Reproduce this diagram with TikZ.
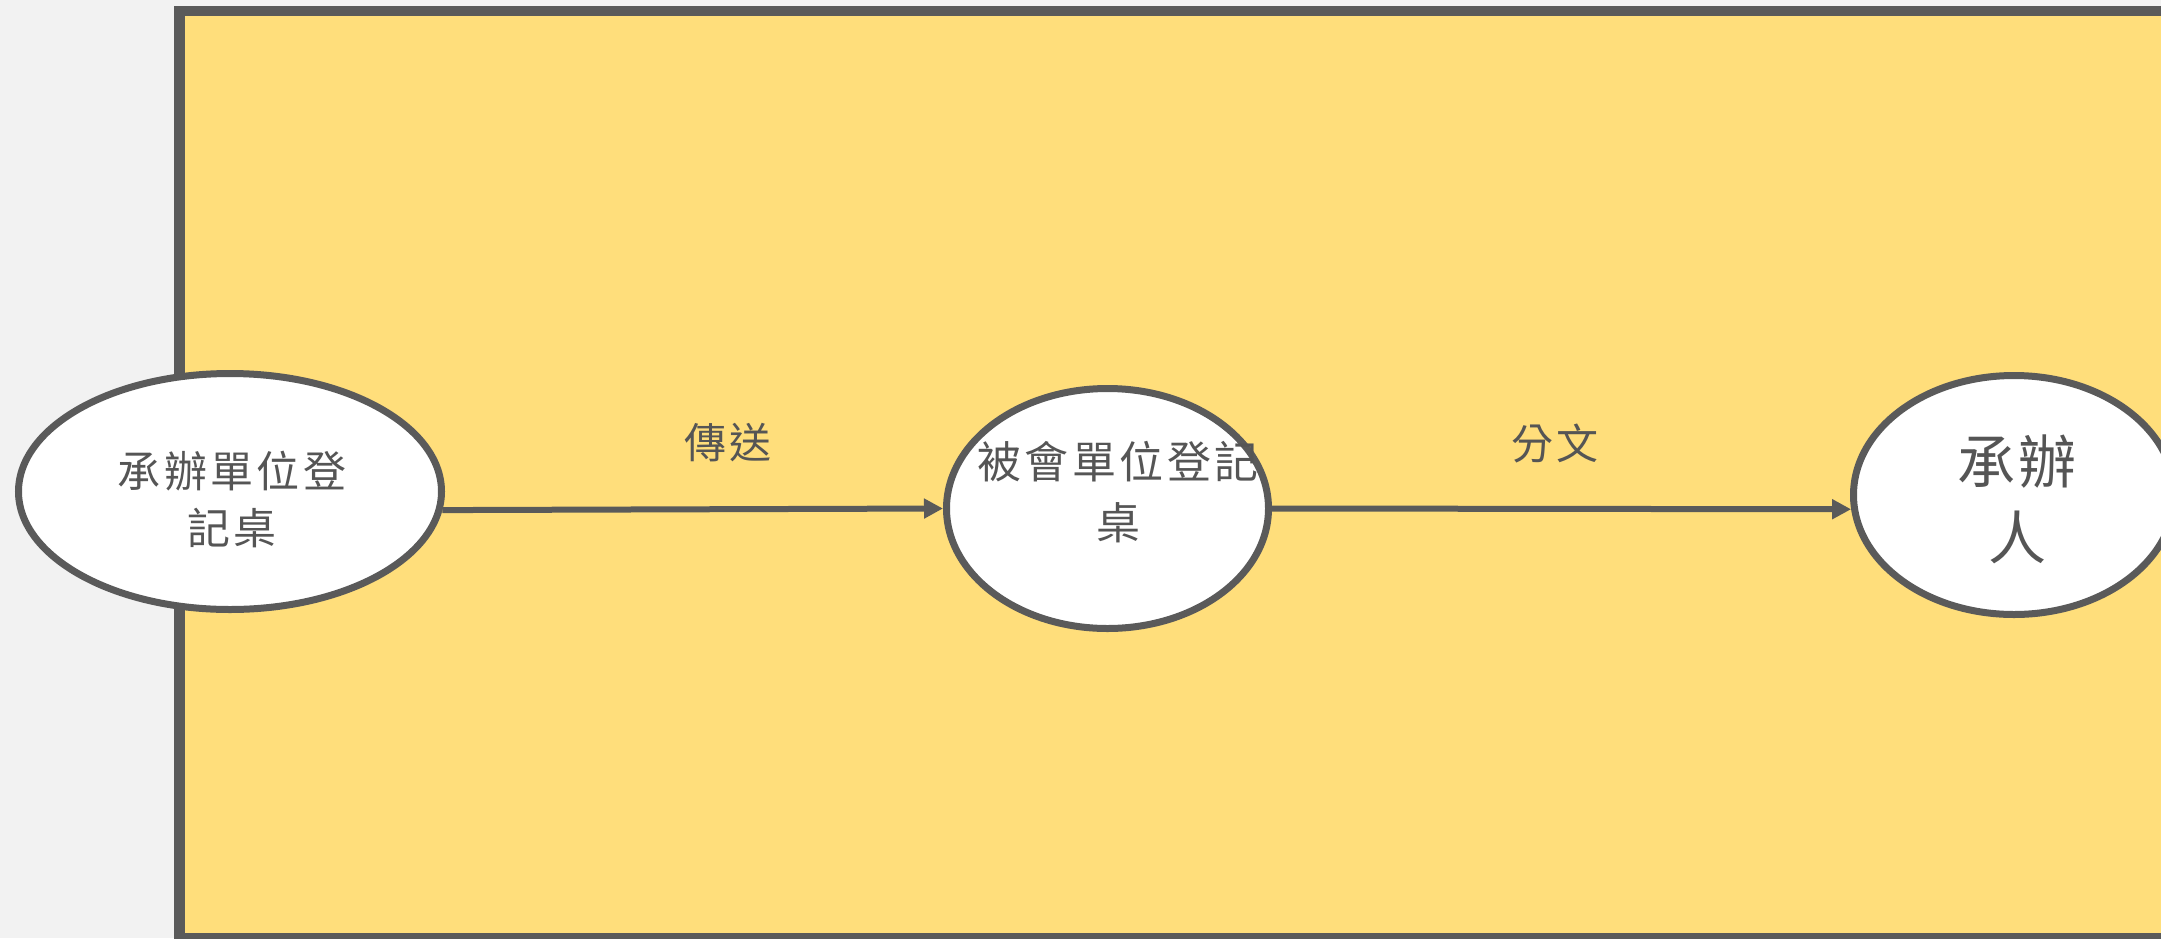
\documentclass[tikz,border=0pt]{standalone}
\usepackage{fontspec}
\newfontfamily\cjk{Noto Sans CJK TC}[LetterSpace=8]
\newfontfamily\cjkb{Noto Sans CJK TC}[LetterSpace=5]
\usetikzlibrary{shapes.geometric,arrows.meta}
\definecolor{bgcol}{HTML}{F2F2F2}
\definecolor{laneyellow}{HTML}{FFDE7B}
\definecolor{linegray}{HTML}{5A5A5A}
\definecolor{textgray}{HTML}{555555}
\tikzset{
  ellnode/.style={ellipse, draw=linegray, line width=7pt, fill=white, inner sep=0pt},
  elltext/.style={text=textgray, align=center, inner sep=0pt},
  edgelabel/.style={text=textgray, inner sep=0pt, font=\cjk\fontsize{42}{50}\selectfont},
  flow/.style={draw=linegray, line width=6pt, -{Triangle[length=19pt,width=19pt]}}
}
\begin{document}
\begin{tikzpicture}[x=1pt,y=-1pt]
\useasboundingbox (0,0) rectangle (2161,938);
\fill[bgcol] (0,0) rectangle (2161,938);
\clip (0,0) rectangle (2161,938);
\draw[draw=linegray, fill=laneyellow, line width=10.5pt] (179.5,11) rectangle (2175,938.5);

\node[ellnode, minimum width=423pt, minimum height=236pt] (e1) at (230,491.5) {};
\node[ellnode, minimum width=322pt, minimum height=240pt] (e2) at (1107.5,508.5) {};
\node[ellnode, minimum width=321pt, minimum height=239pt] (e3) at (2014,495) {};

\node[elltext, font=\cjk\fontsize{43}{57}\selectfont] (t1) at (232,499) {承辦單位登\\記桌};
\node[elltext, font=\cjk\fontsize{44}{61}\selectfont] (t2) at (1118,492) {被會單位登記\\桌};
\node[elltext, font=\cjkb\fontsize{58}{76}\selectfont] (t3) at (2017,499) {承辦\\人};

\draw[flow] (e1.-5) -- (e2.west);
\draw[flow] (e2.east) -- (e3.185);
\node[edgelabel] (lab1) at (728,443) {傳送};
\node[edgelabel] (lab2) at (1555,443) {分文};
\end{tikzpicture}
\end{document}
